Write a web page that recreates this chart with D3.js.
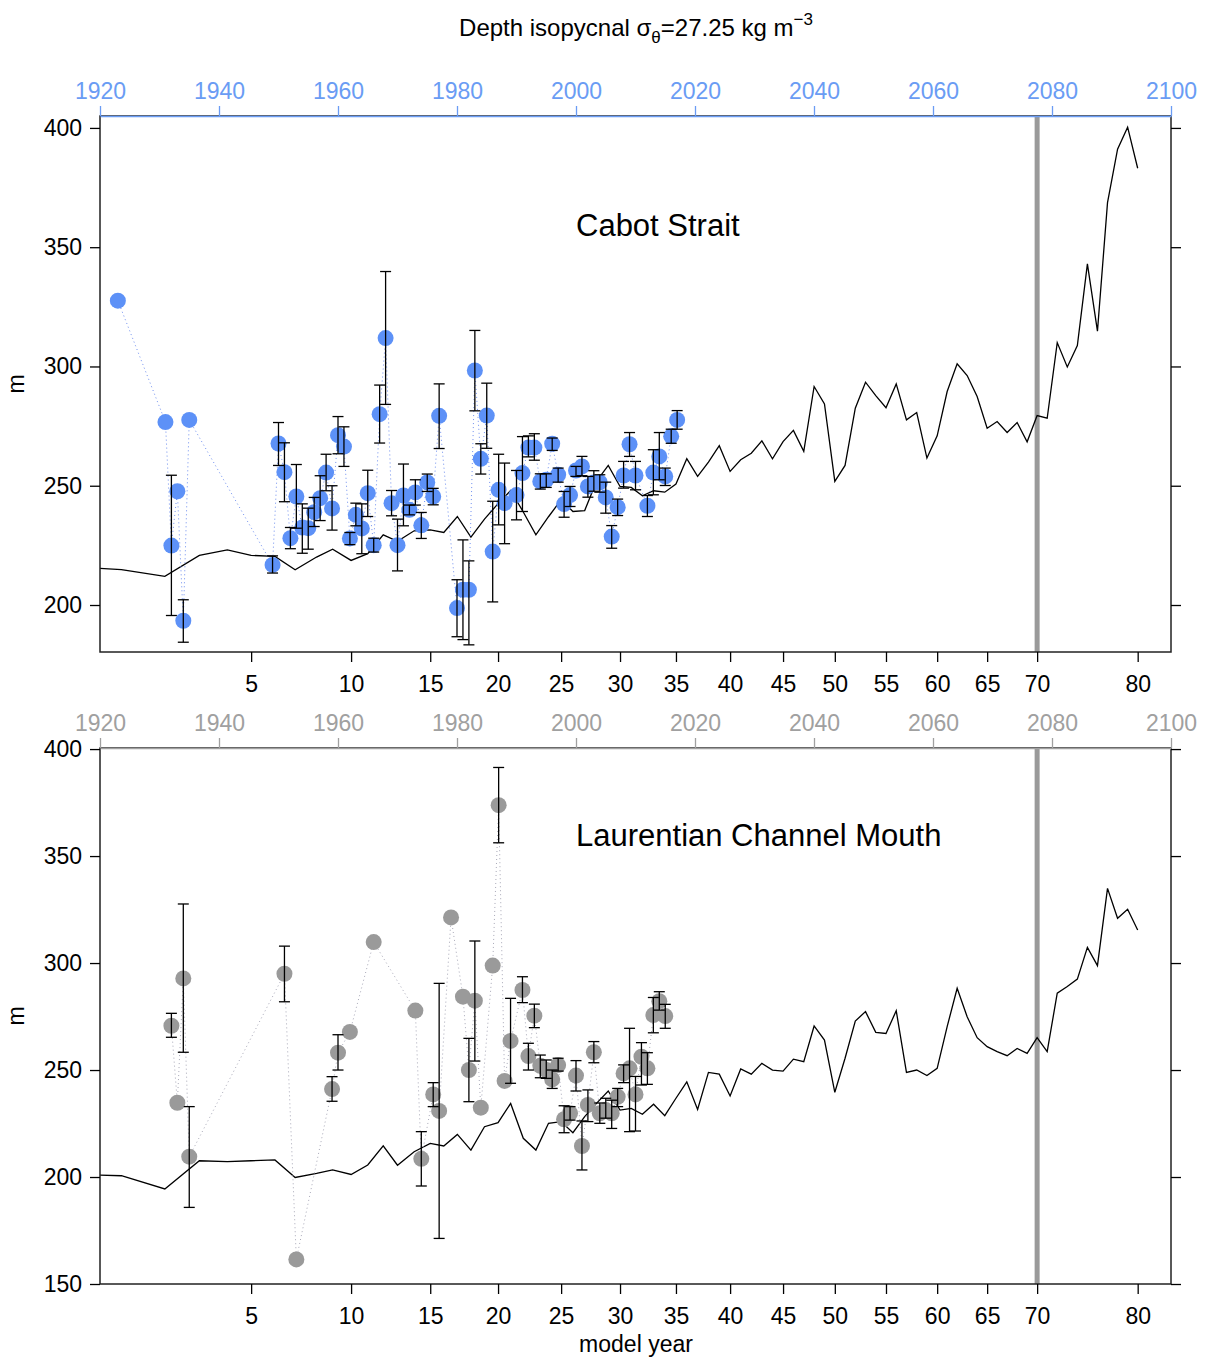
<!DOCTYPE html>
<html>
<head>
<meta charset="utf-8">
<script src="https://cdn.jsdelivr.net/npm/d3@7"></script>
<style>
  body { margin: 0; background: #fff; }
  svg { font-family: "Liberation Sans", Arial, sans-serif; }
</style>
</head>
<body>
<script>
// Axis ticks
var yearTicks = [1920, 1940, 1960, 1980, 2000, 2020, 2040, 2060, 2080, 2100];
var modelYearTicks = [5, 10, 15, 20, 25, 30, 35, 40, 45, 50, 55, 60, 65, 70, 80];
var cabotDepthTicks = [200, 250, 300, 350, 400];
var mouthDepthTicks = [150, 200, 250, 300, 350, 400];

// model year -> calendar year
var modelYearAnchors = [0, 1, 2, 3, 4, 5, 6, 7, 8, 9, 10, 11, 12, 13, 14, 15, 20, 25, 30, 35, 40, 45, 50, 55, 60, 65, 70, 80];
var calendarAnchors = [1913.0, 1923.6, 1930.9, 1936.7, 1941.4, 1945.4, 1949.4, 1952.8, 1956.4, 1959.1, 1962.2,
  1965.0, 1967.6, 1970.0, 1972.8, 1975.5, 1986.9, 1997.5, 2007.4, 2016.8, 2025.9, 2034.8, 2043.5,
  2052.1, 2060.7, 2069.1, 2077.5, 2094.4];

// Model output, one value per model year 0..80
var modelYears = d3.range(0, 81);
var cabotModel = [216.5, 214.8, 212.0, 220.8, 223.1, 220.8, 220.4, 214.8, 220.1, 223.4,
  218.7, 221.5, 229.4, 226.7, 231.1, 231.5, 230.4, 237.1, 228.5, 236.0,
  242.5, 248.0, 239.0, 229.4, 237.0, 244.1, 239.2, 239.6, 251.8, 258.5,
  249.7, 249.3, 245.8, 247.9, 247.3, 250.7, 261.3, 253.9, 259.9, 266.8,
  256.0, 260.9, 263.6, 268.8, 261.3, 268.5, 273.2, 264.4, 291.6, 284.3,
  251.8, 258.5, 282.5, 293.4, 287.8, 282.7, 292.7, 277.6, 280.7, 261.6,
  270.9, 289.5, 301.1, 296.2, 287.4, 274.1, 276.9, 272.3, 276.5, 268.4,
  279.4, 278.3, 310.0, 299.8, 308.8, 343.0, 314.8, 368.7, 391.1, 400.3, 383.1];
var mouthModel = [201.5, 200.6, 194.4, 207.6, 207.2, 207.6, 208.0, 199.8, 201.7, 203.3,
  201.2, 205.6, 214.6, 205.5, 211.8, 215.7, 214.5, 219.9, 212.6, 223.5,
  225.4, 234.4, 218.1, 212.6, 225.1, 225.9, 220.7, 228.2, 234.4, 240.2,
  231.3, 232.1, 229.3, 234.0, 228.7, 236.8, 244.5, 231.6, 248.9, 248.1,
  237.9, 250.5, 248.1, 253.1, 250.0, 249.5, 255.1, 253.9, 270.6, 264.0,
  239.6, 255.5, 272.9, 277.3, 267.6, 267.1, 277.7, 248.9, 250.0, 247.4,
  250.8, 270.3, 288.2, 274.9, 265.1, 260.9, 258.6, 256.7, 260.1, 257.8,
  265.1, 258.6, 285.9, 289.0, 292.5, 307.3, 298.8, 334.9, 320.9, 325.1, 315.4];

// Observations, Cabot Strait
var cabotYears = [1923, 1931, 1932, 1933, 1934, 1935, 1949, 1950, 1951, 1952, 1953, 1954, 1955, 1956,
  1957, 1958, 1959, 1960, 1961, 1962, 1963, 1964, 1965, 1966, 1967, 1968, 1969, 1970, 1971, 1972,
  1973, 1974, 1975, 1976, 1977, 1980, 1981, 1982, 1983, 1984, 1985, 1986, 1987, 1988, 1990, 1991,
  1992, 1993, 1994, 1995, 1996, 1997, 1998, 1999, 2000, 2001, 2002, 2003, 2004, 2005, 2006, 2007,
  2008, 2009, 2010, 2012, 2013, 2014, 2015, 2016, 2017];
var cabotDepth = [327.6, 276.7, 224.9, 247.7, 193.4, 277.6, 216.8, 267.7, 255.7, 228.0, 245.5, 232.5, 232.2, 238.9,
  244.8, 255.5, 240.5, 271.2, 266.4, 227.9, 237.8, 232.1, 246.9, 225.1, 280.0, 311.9, 242.7, 225.1, 245.9, 239.9,
  247.2, 233.4, 251.4, 245.5, 279.3, 198.7, 206.4, 206.4, 298.3, 261.3, 279.4, 222.4, 248.3, 242.7, 246.1, 255.3,
  266.0, 266.0, 251.8, 252.5, 267.6, 254.6, 242.3, 246.1, 256.4, 258.1, 249.7, 251.4, 251.4, 245.1, 228.7, 241.0,
  254.3, 267.4, 254.3, 241.6, 255.5, 262.3, 253.9, 270.7, 277.6];
var cabotLo = [null, null, 195.6, null, 184.4, null, 213.4, 258.5, 243.3, 223.6, 232.2, 221.7, 223.4, 232.9,
  235.4, 247.9, 231.4, 263.4, 258.1, 225.3, 233.2, 221.5, 237.1, 222.2, 267.9, 284.1, 237.4, 214.3, 233.2, 237.8,
  241.9, 227.9, 247.6, 242.0, 265.6, 186.7, 185.5, 183.3, 281.4, 254.9, 265.7, 201.3, 233.6, 225.7, 235.7, 239.2,
  262.1, 260.7, 248.6, 249.3, 264.8, 251.5, 236.8, 241.3, 253.9, 254.2, 245.2, 247.7, 247.3, 238.5, 223.8, 237.5,
  249.0, 262.3, 248.3, 237.1, 246.2, 252.5, 250.1, 267.8, 273.7];
var cabotHi = [null, null, 254.4, null, 202.2, null, 220.6, 276.5, 268.0, 232.5, 258.9, 242.4, 240.6, 245.1,
  254.2, 263.2, 250.0, 279.0, 274.7, 230.4, 242.7, 242.4, 256.5, 228.0, 292.2, 339.8, 248.0, 236.0, 259.1, 241.9,
  252.5, 238.8, 254.9, 248.9, 292.7, 210.6, 227.3, 218.5, 315.1, 267.6, 293.0, 243.5, 263.2, 259.5, 256.4, 270.6,
  270.9, 271.8, 255.0, 255.0, 270.0, 257.4, 247.6, 249.7, 258.1, 262.3, 253.9, 256.3, 254.6, 251.5, 233.3, 244.4,
  260.2, 272.3, 260.2, 245.9, 265.1, 272.3, 257.4, 273.7, 281.5];

// Observations, Laurentian Channel Mouth
var mouthYears = [1932, 1933, 1934, 1935, 1951, 1953, 1959, 1960, 1962, 1966, 1973, 1974, 1976, 1977,
  1979, 1981, 1982, 1983, 1984, 1986, 1987, 1988, 1989, 1991, 1992, 1993, 1994, 1995, 1996, 1997,
  1998, 1999, 2000, 2001, 2002, 2003, 2004, 2005, 2006, 2007, 2008, 2009, 2010, 2011, 2012, 2013,
  2014, 2015];
var mouthDepth = [270.7, 234.7, 292.8, 209.5, 295.0, 161.5, 241.1, 258.1, 267.8, 309.8, 277.8, 208.5, 238.6, 230.9,
  321.3, 284.3, 250.0, 282.4, 232.4, 298.8, 373.8, 244.9, 263.6, 287.4, 256.5, 275.4, 252.0, 250.0, 245.6, 252.3,
  227.0, 229.8, 247.4, 214.5, 233.7, 258.3, 229.8, 231.3, 229.8, 237.5, 248.4, 250.8, 238.6, 256.2, 250.8, 275.7,
  282.2, 275.2];
var mouthLo = [265.3, null, 258.3, 185.8, 281.9, null, 235.4, 250.0, null, null, null, 195.8, 232.9, 171.3,
  null, null, 235.2, 254.2, null, null, 356.2, null, 243.8, 281.5, 250.0, 269.8, 246.4, 246.1, 241.4, 249.5,
  220.7, 226.6, 240.2, 203.3, 225.9, 253.4, 225.1, 227.5, 222.7, 232.9, 244.1, 221.2, 221.5, 243.0, 243.3, 267.4,
  278.0, 269.5];
var mouthHi = [276.5, null, 327.6, 232.9, 307.9, null, 246.9, 266.5, null, null, null, 221.2, 244.1, 290.5,
  null, null, 264.8, 310.3, null, null, 391.4, null, 283.5, 293.6, 262.5, 280.8, 257.0, 254.7, 250.0, 255.5,
  233.3, 232.9, 254.4, 226.2, 240.7, 263.3, 234.6, 236.8, 235.9, 241.4, 252.4, 269.5, 247.0, 262.8, 258.1, 283.9,
  286.6, 280.7];

var width = 1207, height = 1359;
var left = 100, right = 1171;
var fontSize = 23;

var svg = d3.select("body").append("svg")
    .attr("width", width)
    .attr("height", height);

var x = d3.scaleLinear().domain([1920, 2100]).range([left, right]);
// piecewise scale: model year straight to pixels
var xModel = d3.scaleLinear().domain(modelYearAnchors).range(calendarAnchors.map(x));

var panels = [
  {id: "cabot", top: 116, bottom: 652, domain: [180.3, 405], ticks: cabotDepthTicks,
   axisColor: "#6a9cf4", dotColor: "#5d91f7", dotLine: "#6f8ff0", label: "Cabot Strait",
   model: cabotModel, years: cabotYears, depth: cabotDepth, lo: cabotLo, hi: cabotHi},
  {id: "mouth", top: 748, bottom: 1284, domain: [150, 400.5], ticks: mouthDepthTicks,
   axisColor: "#a0a0a0", dotColor: "#9a9a9a", dotLine: "#a9a9b8", label: "Laurentian Channel Mouth",
   model: mouthModel, years: mouthYears, depth: mouthDepth, lo: mouthLo, hi: mouthHi}
];

panels.forEach(drawPanel);

function styleAxis(g) {
  g.attr("font-size", fontSize).attr("font-family", null);
  g.selectAll(".tick line").attr("stroke-width", 1.3);
}

function drawPanel(p) {
  var y = d3.scaleLinear().domain(p.domain).range([p.bottom, p.top]);
  var g = svg.append("g");

  svg.append("clipPath").attr("id", p.id + "-clip")
    .append("rect")
      .attr("x", left).attr("y", p.top)
      .attr("width", right - left).attr("height", p.bottom - p.top);

  // model year 70 marker
  g.append("line")
      .attr("x1", xModel(70)).attr("x2", xModel(70))
      .attr("y1", p.top).attr("y2", p.bottom)
      .attr("stroke", "#9a9a9a")
      .attr("stroke-width", 5);

  // model line
  var line = d3.line()
      .x(function(d, i) { return xModel(modelYears[i]); })
      .y(function(d) { return y(d); });

  g.append("path")
      .datum(p.model)
      .attr("clip-path", "url(#" + p.id + "-clip)")
      .attr("d", line)
      .attr("fill", "none")
      .attr("stroke", "#000")
      .attr("stroke-width", 1.3);

  var obs = p.years.map(function(yr, i) {
    return {year: yr, depth: p.depth[i], lo: p.lo[i], hi: p.hi[i]};
  });

  // dotted line joining observations
  g.append("path")
      .datum(obs)
      .attr("d", d3.line()
        .x(function(d) { return x(d.year); })
        .y(function(d) { return y(d.depth); }))
      .attr("fill", "none")
      .attr("stroke", p.dotLine)
      .attr("stroke-width", 1)
      .attr("stroke-dasharray", "1,3");

  g.selectAll(".dot")
      .data(obs)
    .enter().append("circle")
      .attr("class", "dot")
      .attr("cx", function(d) { return x(d.year); })
      .attr("cy", function(d) { return y(d.depth); })
      .attr("r", 8)
      .attr("fill", p.dotColor);

  // error bars
  var bars = g.selectAll(".bar")
      .data(obs.filter(function(d) { return d.lo != null; }))
    .enter().append("g")
      .attr("class", "bar")
      .attr("stroke", "#000")
      .attr("stroke-width", 1.3);

  bars.append("line")
      .attr("x1", function(d) { return x(d.year); })
      .attr("x2", function(d) { return x(d.year); })
      .attr("y1", function(d) { return y(d.lo); })
      .attr("y2", function(d) { return y(d.hi); });

  ["lo", "hi"].forEach(function(k) {
    bars.append("line")
        .attr("x1", function(d) { return x(d.year) - 5.5; })
        .attr("x2", function(d) { return x(d.year) + 5.5; })
        .attr("y1", function(d) { return y(d[k]); })
        .attr("y2", function(d) { return y(d[k]); });
  });

  // frame
  g.append("rect")
      .attr("x", left).attr("y", p.top)
      .attr("width", right - left).attr("height", p.bottom - p.top)
      .attr("fill", "none")
      .attr("stroke", "#222")
      .attr("stroke-width", 1.5);

  // axes
  g.append("g")
      .attr("transform", "translate(0," + p.top + ")")
      .call(d3.axisTop(x).tickValues(yearTicks).tickFormat(d3.format("d"))
        .tickSize(10).tickSizeOuter(0).tickPadding(7))
      .call(styleAxis)
      .attr("color", p.axisColor)
      .select(".domain").attr("stroke-width", 1.5);

  g.append("g")
      .attr("transform", "translate(" + left + ",0)")
      .call(d3.axisLeft(y).tickValues(p.ticks).tickSize(10).tickSizeOuter(0).tickPadding(8))
      .call(styleAxis)
      .attr("color", "#000")
      .select(".domain").remove();

  g.append("g")
      .attr("transform", "translate(" + right + ",0)")
      .call(d3.axisRight(y).tickValues(p.ticks).tickFormat("").tickSize(10).tickSizeOuter(0))
      .call(styleAxis)
      .attr("color", "#000")
      .select(".domain").remove();

  g.append("g")
      .attr("transform", "translate(0," + p.bottom + ")")
      .call(d3.axisBottom(xModel).tickValues(modelYearTicks).tickFormat(d3.format("d"))
        .tickSize(10).tickSizeOuter(0).tickPadding(14))
      .call(styleAxis)
      .attr("color", "#000")
      .select(".domain").remove();

  // labels
  g.append("text")
      .attr("x", 576)
      .attr("y", p.top + (p.id == "cabot" ? 120 : 98))
      .attr("font-size", 31)
      .text(p.label);

  g.append("text")
      .attr("transform", "translate(24," + (p.top + p.bottom) / 2 + ") rotate(-90)")
      .attr("text-anchor", "middle")
      .attr("font-size", fontSize)
      .text("m");
}

// title
var title = svg.append("text")
    .attr("x", 636)
    .attr("y", 36)
    .attr("text-anchor", "middle")
    .attr("font-size", 24);
title.append("tspan").text("Depth isopycnal σ");
title.append("tspan").attr("dy", 7).attr("font-size", 17).text("θ");
title.append("tspan").attr("dy", -7).text("=27.25 kg m");
title.append("tspan").attr("dy", -11).attr("font-size", 17).text("−3");

svg.append("text")
    .attr("x", 636)
    .attr("y", 1352)
    .attr("text-anchor", "middle")
    .attr("font-size", fontSize)
    .text("model year");
</script>
</body>
</html>
